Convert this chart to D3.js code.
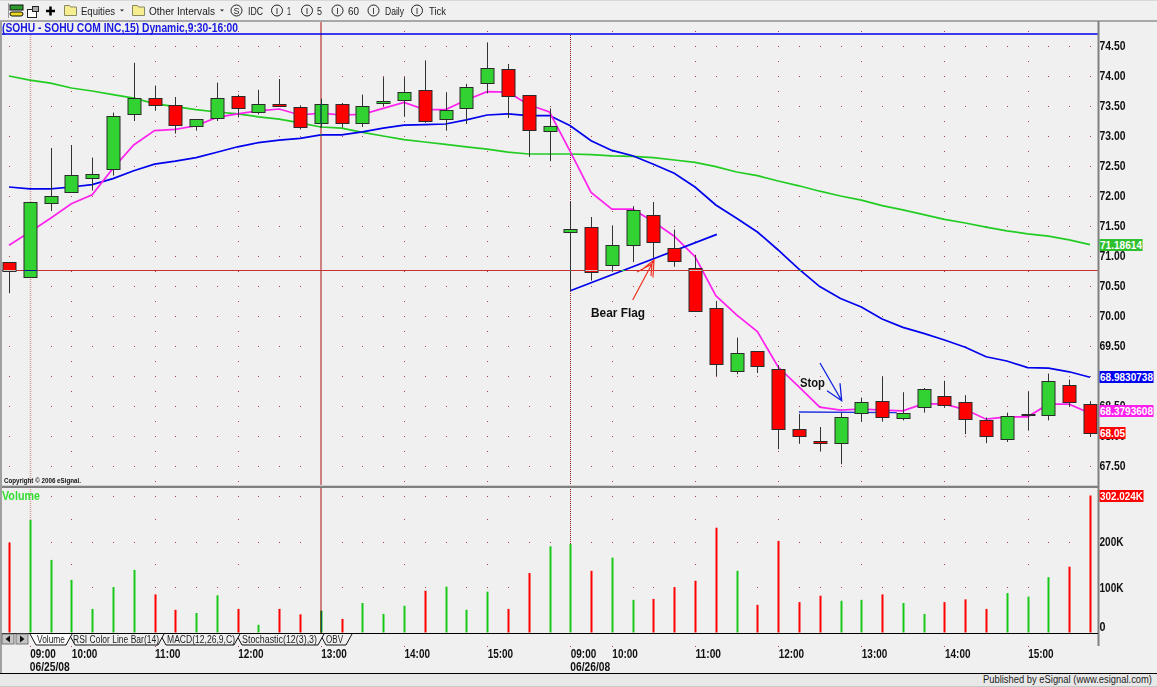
<!DOCTYPE html>
<html>
<head>
<meta charset="utf-8">
<script src="https://cdnjs.cloudflare.com/ajax/libs/d3/7.8.5/d3.min.js"></script>
<style>
  html, body { margin: 0; padding: 0; background: #f0f0f0; overflow: hidden; }
  text { font-family: "Liberation Sans", Arial, sans-serif; }
  .bold { font-weight: bold; }
</style>
</head>
<body>
<div id="graph"></div>
<script>
// bars are 15 min, index 0 is the last bar before the 09:00 label
var opens = [70.90,70.65,71.88,72.06,72.30,72.45,73.37,73.64,73.51,73.17,73.30,73.66,73.41,73.54,73.49,73.22,73.53,73.22,73.55,73.59,73.76,73.28,73.46,73.88,74.11,73.68,73.09,71.40,71.48,70.84,71.18,71.69,71.14,70.80,70.13,69.09,69.41,69.12,68.12,67.91,67.87,68.38,68.59,68.31,68.48,68.67,68.56,68.26,67.96,68.36,68.36,68.85,68.53];
var closes = [70.75,71.90,72.00,72.35,72.36,73.33,73.64,73.53,73.18,73.28,73.64,73.46,73.54,73.50,73.15,73.54,73.22,73.50,73.59,73.73,73.24,73.43,73.81,74.13,73.66,73.09,73.17,71.45,70.73,71.18,71.76,71.24,70.92,70.09,69.19,69.39,69.16,68.12,68.00,67.87,68.31,68.56,68.33,68.39,68.78,68.52,68.28,67.99,68.34,68.36,68.92,68.57,68.05];
var highs = [70.90,71.90,72.80,72.85,72.64,73.39,74.22,73.84,73.65,73.28,73.89,73.69,73.77,73.95,73.51,73.62,73.55,73.69,73.98,73.98,74.26,73.73,73.87,74.56,74.20,73.68,73.46,71.90,71.65,71.51,71.83,71.90,71.44,71.02,70.25,69.64,69.41,69.18,68.37,68.15,68.39,68.64,68.99,68.73,68.80,68.92,68.68,68.31,68.39,68.74,69.04,68.94,68.58];
var lows = [70.38,70.65,71.75,72.06,72.09,72.34,73.25,73.42,73.04,73.09,73.25,73.31,73.36,73.50,73.11,73.15,73.14,73.15,73.50,73.32,73.22,73.09,73.20,73.71,73.30,72.65,72.58,70.42,70.59,70.74,70.90,70.97,70.82,70.08,69.00,69.03,69.05,67.78,67.87,67.74,67.53,68.24,68.24,68.26,68.39,68.47,68.03,67.88,67.90,68.09,68.26,68.49,67.99];
var volumes = [198,248,160,116,52,100,138,84,50,43,82,52,17,52,40,48,30,65,41,59,92,101,50,90,52,131,190,195,136,165,72,74,100,114,231,136,61,202,67,81,70,72,84,65,41,67,73,52,87,79,122,145,302];

var magentaMa = [71.18,71.40,71.63,71.87,72.02,72.46,72.85,73.09,73.11,73.17,73.31,73.37,73.42,73.45,73.35,73.38,73.35,73.36,73.46,73.56,73.44,73.44,73.60,73.74,73.73,73.52,73.40,72.74,72.06,71.78,71.78,71.57,71.33,70.99,70.34,70.02,69.74,69.15,68.82,68.48,68.43,68.45,68.43,68.42,68.54,68.53,68.44,68.28,68.32,68.32,68.53,68.53,68.38];
var blueMa = [72.15,72.12,72.12,72.15,72.19,72.29,72.42,72.53,72.58,72.64,72.73,72.82,72.89,72.93,72.96,73.02,73.02,73.07,73.13,73.18,73.19,73.20,73.27,73.35,73.37,73.34,73.34,73.17,72.92,72.76,72.67,72.53,72.38,72.15,71.85,71.63,71.40,71.10,70.78,70.49,70.29,70.15,69.95,69.81,69.71,69.60,69.48,69.32,69.25,69.14,69.13,69.07,68.98];
var greenMa = [74.00,73.93,73.88,73.80,73.75,73.69,73.63,73.54,73.49,73.44,73.40,73.37,73.32,73.28,73.22,73.15,73.13,73.06,73.00,72.94,72.90,72.86,72.82,72.78,72.73,72.70,72.70,72.70,72.69,72.67,72.66,72.64,72.60,72.56,72.49,72.40,72.34,72.25,72.17,72.08,72.00,71.93,71.84,71.77,71.69,71.61,71.55,71.48,71.42,71.37,71.33,71.27,71.19];

var priceTicks = [74.5,74,73.5,73,72.5,72,71.5,71,70.5,70,69.5,69,68.5,68,67.5];
// 69.00 sits fully under the blue flag in the original
var priceLabels = priceTicks.filter(function(p) { return p != 69; });
var hourBars = [1,3,7,11,15,19,23,27,29,33,37,41,45,49];
var hourLabels = ['09:00','10:00','11:00','12:00','13:00','14:00','15:00','09:00','10:00','11:00','12:00','13:00','14:00','15:00'];
var dateBars = [1,27];
var dateLabels = ['06/25/08','06/26/08'];
var volumeTicks = [0,100,200];
var volumeGrid = [100,200,300];
var tabNames = ['Volume','RSI Color Line Bar(14)','MACD(12,26,9,C)','Stochastic(12(3),3)','OBV'];
var toolbarLabels = ['Equities','Other Intervals','IDC','1','5','60','Daily','Tick'];

var width = 1157,
    height = 687;

var red = '#ff0000',
    green = '#32d232',
    axisGrey = '#808080',
    dotColor = '#a84848';

var barIndex = d3.range(opens.length);

var x = d3.scaleLinear().domain([0, 52]).range([9, 1090]);
var y = d3.scaleLinear().domain([67.5, 74.5]).range([466, 46]);
var yVol = d3.scaleLinear().domain([0, 302]).range([632.5, 495.5]);

function px(v) { return Math.round(v) + 0.5; }

// the platform font is narrower than Liberation, squeeze to the measured width
function fit(sel, w) {
    return sel.attr('textLength', w).attr('lengthAdjust', 'spacingAndGlyphs');
}

var svg = d3.select('#graph')
    .append('svg')
    .attr('width', width)
    .attr('height', height)
    .style('display', 'block');

svg.append('rect').attr('width', width).attr('height', height).style('fill', '#f0f0f0');

// toolbar
svg.append('rect').attr('x', 0).attr('y', 20).attr('width', width).attr('height', 2).style('fill', '#a8a8a8');
svg.append('rect').attr('x', 0).attr('y', 0).attr('width', width).attr('height', 1).style('fill', '#d8d8d8');
svg.append('rect').attr('x', 8).attr('y', 3).attr('width', 1).attr('height', 15).style('fill', '#999');
svg.append('rect').attr('x', 10).attr('y', 5).attr('width', 13).attr('height', 5).style('fill', '#2c9a2c').style('stroke', '#111');
svg.append('rect').attr('x', 10).attr('y', 12).attr('width', 13).attr('height', 4).attr('rx', 2).style('fill', '#e8d820').style('stroke', '#111');
svg.append('rect').attr('x', 27.5).attr('y', 9.5).attr('width', 9).attr('height', 8).style('fill', '#fff').style('stroke', '#222');
svg.append('rect').attr('x', 32.5).attr('y', 6.5).attr('width', 6).attr('height', 5).style('fill', '#aaa').style('stroke', '#222');
svg.append('path').attr('d', 'M46 11H55M50.5 6.5V15.5').style('stroke', '#000').style('stroke-width', 2.5);

[64.5, 132.5].forEach(function(fx) {
    svg.append('path')
        .attr('d', 'M' + fx + ' 8V5.5H' + (fx + 5) + 'L' + (fx + 6) + ' 7H' + (fx + 12) + 'V15.5H' + fx + 'Z')
        .style('fill', '#f6ec90').style('stroke', '#8a8a60');
});
[120, 220].forEach(function(tx) {
    svg.append('path').attr('d', 'M' + tx + ' 9.5H' + (tx + 4) + 'L' + (tx + 2) + ' 11.5Z').style('fill', '#222');
});

var toolbarX = [81, 149, 248, 287, 317, 348, 385, 429];
var toolbarW = [34, 66, 15, 4, 5, 11, 19, 17];
svg.append('g').selectAll('text')
    .data(toolbarLabels)
    .enter().append('text')
    .attr('x', function(d, i) { return toolbarX[i]; })
    .attr('y', 15)
    .attr('textLength', function(d, i) { return toolbarW[i]; })
    .attr('lengthAdjust', 'spacingAndGlyphs')
    .style('font-size', 11.5)
    .style('fill', '#222')
    .text(function(d) { return d; });

[236.5, 277, 307, 337.5, 373.5, 417].forEach(function(cx, i) {
    svg.append('circle').attr('cx', cx).attr('cy', 10.5).attr('r', 5.5).style('fill', 'none').style('stroke', '#222');
    svg.append('text').attr('x', cx).attr('y', 13.5).attr('text-anchor', 'middle')
        .style('font-size', 9).style('fill', '#222').text(i == 0 ? 'S' : 'I');
});

// dotted grid, one row every 50 cents, hour columns every 15 px
var gridBars = barIndex.filter(function(i) { return i != 1 && i != 15 && i != 27; });
var gridGroup = svg.append('g').style('fill', dotColor);
priceTicks.forEach(function(p) {
    gridBars.forEach(function(i) {
        gridGroup.append('rect').attr('x', Math.round(x(i))).attr('y', Math.round(y(p))).attr('width', 1).attr('height', 1);
    });
});
var hourGrid = hourBars.filter(function(i) { return i != 1 && i != 15 && i != 27; });
priceTicks.concat([75, 67.25]).forEach(function(p) {
    hourGrid.forEach(function(i) {
        gridGroup.append('rect').attr('x', Math.round(x(i))).attr('y', Math.round(y(p - 0.25))).attr('width', 1).attr('height', 1);
    });
});
volumeGrid.forEach(function(v) {
    gridBars.forEach(function(i) {
        gridGroup.append('rect').attr('x', Math.round(x(i))).attr('y', Math.round(yVol(v))).attr('width', 1).attr('height', 1);
    });
});
[250, 150].forEach(function(v) {
    hourGrid.forEach(function(i) {
        gridGroup.append('rect').attr('x', Math.round(x(i))).attr('y', Math.round(yVol(v))).attr('width', 1).attr('height', 1);
    });
});
hourBars.forEach(function(i) {
    gridGroup.append('rect').attr('x', Math.round(x(i))).attr('y', 646).attr('width', 1).attr('height', 1);
});

// day separators
svg.append('line')
    .attr('x1', px(x(1))).attr('x2', px(x(1))).attr('y1', 35).attr('y2', yVol(volumes[1]))
    .style('stroke', '#d09898').style('stroke-width', 1.5).style('stroke-dasharray', '1 1');
svg.append('line')
    .attr('x1', px(x(27))).attr('x2', px(x(27))).attr('y1', 35).attr('y2', yVol(volumes[27]))
    .style('stroke', '#8b1a1a').style('stroke-dasharray', '1 1');

// moving averages
var maLine = d3.line()
    .x(function(d, i) { return x(i); })
    .y(function(d) { return y(d); });

[[greenMa, '#22cc22'], [blueMa, '#0000ee'], [magentaMa, '#ff22ee']].forEach(function(m) {
    svg.append('path')
        .datum(m[0])
        .attr('d', maLine)
        .style('fill', 'none')
        .style('stroke', m[1])
        .style('stroke-width', 1.7);
});

// hand drawn trend line and stop line
var flagLine = [[27, 70.42], [34.05, 71.36]];
var stopLine = [[38, 68.40], [42.7, 68.39]];
var anno = d3.line().x(function(d) { return x(d[0]); }).y(function(d) { return y(d[1]); });
svg.append('path').attr('d', anno(flagLine)).style('stroke', '#0000ee').style('stroke-width', 1.7).style('fill', 'none');
svg.append('path').attr('d', anno(stopLine)).style('stroke', '#2030e0').style('stroke-width', 1.3).style('fill', 'none');

// candles
var candles = svg.append('g').selectAll('g')
    .data(barIndex)
    .enter().append('g');

candles.append('line')
    .attr('x1', function(i) { return px(x(i)); })
    .attr('x2', function(i) { return px(x(i)); })
    .attr('y1', function(i) { return y(highs[i]); })
    .attr('y2', function(i) { return y(lows[i]); })
    .style('stroke', '#333');

candles.append('rect')
    .attr('x', function(i) { return px(x(i)) - 6.5; })
    .attr('y', function(i) { return px(y(Math.max(opens[i], closes[i]))); })
    .attr('width', 13)
    .attr('height', function(i) { return Math.max(1, Math.round(Math.abs(y(opens[i]) - y(closes[i])))); })
    .style('fill', function(i) { return closes[i] >= opens[i] ? green : red; })
    .style('stroke', '#2a2a2a');

// volume bars
svg.append('g').selectAll('rect')
    .data(barIndex)
    .enter().append('rect')
    .attr('x', function(i) { return Math.round(x(i)) - 0.5; })
    .attr('y', function(i) { return yVol(volumes[i]); })
    .attr('width', 2)
    .attr('height', function(i) { return yVol(0) - yVol(volumes[i]); })
    .style('fill', function(i) { return closes[i] >= opens[i] ? '#18c818' : red; });

// these two are xor'd by the platform, difference gets the same look over the bars
svg.append('line')
    .attr('x1', 2).attr('x2', 1098).attr('y1', px(y(70.77))).attr('y2', px(y(70.77)))
    .style('stroke', '#28c0c0').style('mix-blend-mode', 'difference');
svg.append('line')
    .attr('x1', 321).attr('x2', 321).attr('y1', 22).attr('y2', 633)
    .style('stroke', '#207070').style('stroke-width', 2).style('mix-blend-mode', 'difference');

// title and top line
svg.append('line').attr('x1', 2).attr('x2', 1098).attr('y1', 34).attr('y2', 34).style('stroke', '#0000ee').style('stroke-width', 1.4);
fit(svg.append('text').attr('class', 'bold')
    .attr('x', 2).attr('y', 32)
    .style('font-size', 12).style('fill', '#1818e0')
    .text('(SOHU - SOHU COM INC,15) Dynamic,9:30-16:00'), 236);

// arrows and notes
svg.append('path').attr('d', 'M632.7 300L654 260M641 270.5L654 260L653 277.5M637 272L652 264L651 276')
    .style('stroke', '#f03020').style('stroke-width', 1.2).style('fill', 'none');
svg.append('path').attr('d', 'M820 363L841.7 400.7M827 390.7L841.7 400.7L840 383.3')
    .style('stroke', '#1020e0').style('stroke-width', 1.3).style('fill', 'none');
fit(svg.append('text').attr('class', 'bold').attr('x', 591).attr('y', 317).style('font-size', 12).style('fill', '#111').text('Bear Flag'), 54);
fit(svg.append('text').attr('class', 'bold').attr('x', 800).attr('y', 387).style('font-size', 12).style('fill', '#111').text('Stop'), 25);
fit(svg.append('text').attr('class', 'bold').attr('x', 4).attr('y', 483).style('font-size', 7).style('fill', '#111').text('Copyright \u00a9 2006 eSignal.'), 77);
fit(svg.append('text').attr('class', 'bold').attr('x', 2).attr('y', 500).style('font-size', 12).style('fill', '#33dd33').text('Volume'), 38);

// panel frame
svg.append('rect').attr('x', 0).attr('y', 22).attr('width', 2).attr('height', 651).style('fill', '#a0a0a0');
svg.append('rect').attr('x', 2).attr('y', 485).attr('width', 1096).attr('height', 1).style('fill', '#d0d0d0');
svg.append('rect').attr('x', 2).attr('y', 486).attr('width', 1096).attr('height', 2).style('fill', axisGrey);
svg.append('rect').attr('x', 1097.5).attr('y', 21).attr('width', 2).attr('height', 625).style('fill', axisGrey);

// tab strip
svg.append('rect').attr('x', 2).attr('y', 633).attr('width', 1096).attr('height', 1).style('fill', '#000');
svg.append('rect').attr('x', 2).attr('y', 634).attr('width', 350).attr('height', 12).style('fill', '#f0f0f0');
[2, 16].forEach(function(bx, i) {
    svg.append('rect').attr('x', bx).attr('y', 634).attr('width', 12).attr('height', 10).style('fill', '#c4c4c4').style('stroke', '#777');
    var dir = i == 0 ? -1 : 1, mid = bx + 6;
    svg.append('path').attr('d', 'M' + (mid + dir * 2.5) + ' 639L' + (mid - dir * 2) + ' 635.5V642.5Z').style('fill', '#111');
});
var tabLeft = [30, 69, 160, 236, 320];
var tabRight = [72, 164, 240, 324, 352];
var tabTextX = [37, 73, 167, 242, 326];
var tabTextW = [28, 86, 68, 75, 17];
[4, 3, 2, 1, 0].forEach(function(i) {
    var l = tabLeft[i], r = tabRight[i];
    svg.append('path')
        .attr('d', 'M' + l + ' 634L' + (l + 6) + ' 645H' + (r - 6) + 'L' + r + ' 634')
        .style('fill', i == 0 ? '#ffffff' : '#f0f0f0')
        .style('stroke', '#111');
    fit(svg.append('text').attr('x', tabTextX[i]).attr('y', 643).style('font-size', 10).style('fill', '#222').text(tabNames[i]), tabTextW[i]);
});

// price axis
var yAxis = d3.axisRight(y)
    .tickValues(priceLabels)
    .tickSize(0)
    .tickPadding(0.5)
    .tickFormat(d3.format('.2f'));
var yG = svg.append('g')
    .attr('transform', 'translate(1099,0)')
    .call(yAxis);
yG.select('.domain').remove();
fit(yG.selectAll('text'), 26).attr('class', 'bold').style('font-size', 12).style('fill', '#111').style('font-family', '"Liberation Sans"');

// volume axis
var volAxis = d3.axisRight(yVol)
    .tickValues(volumeTicks)
    .tickSize(0)
    .tickPadding(0.5)
    .tickFormat(function(d) { return d == 0 ? '0' : d + 'K'; });
var vG = svg.append('g')
    .attr('transform', 'translate(1099,0)')
    .call(volAxis);
vG.select('.domain').remove();
vG.selectAll('text').attr('class', 'bold')
    .attr('dy', function(d) { return d == 0 ? '-2.2' : '3.9'; })
    .attr('textLength', function(d) { return d == 0 ? 6 : 24; })
    .attr('lengthAdjust', 'spacingAndGlyphs')
    .style('font-size', 12).style('fill', '#111').style('font-family', '"Liberation Sans"');

// time axis
var xAxis = d3.axisBottom(x)
    .tickValues(hourBars)
    .tickSize(0)
    .tickPadding(0)
    .tickFormat(function(d) { return hourLabels[hourBars.indexOf(d)]; });
var xG = svg.append('g')
    .attr('transform', 'translate(0,649)')
    .call(xAxis);
xG.select('.domain').remove();
fit(xG.selectAll('text'), 25.5).attr('class', 'bold').attr('text-anchor', 'start')
    .style('font-size', 12).style('fill', '#111').style('font-family', '"Liberation Sans"');

svg.append('g').selectAll('text')
    .data(dateLabels)
    .enter().append('text')
    .attr('class', 'bold')
    .attr('x', function(d, i) { return x(dateBars[i]); })
    .attr('y', 670.5)
    .attr('textLength', 40)
    .attr('lengthAdjust', 'spacingAndGlyphs')
    .style('font-size', 12)
    .style('fill', '#111')
    .text(function(d) { return d; });

// last value flags
var flags = [
    { scale: y, value: greenMa[52], text: '71.18614', fill: '#2fc02f', w: 43 },
    { scale: y, value: blueMa[52], text: '68.9830738', fill: '#0000f0', w: 54 },
    { scale: y, value: magentaMa[52], text: '68.3793608', fill: '#ff22ee', w: 54, off: -2 },
    { scale: y, value: closes[52], text: '68.05', fill: '#ff0000', w: 26 },
    { scale: yVol, value: volumes[52], text: '302.024K', fill: '#ff0000', w: 44 }
];
var flagG = svg.append('g').selectAll('g')
    .data(flags)
    .enter().append('g')
    .attr('transform', function(d) { return 'translate(1099.5,' + (Math.round(d.scale(d.value)) + (d.off || 0)) + ')'; });
flagG.append('rect').attr('x', 0).attr('y', -6).attr('width', function(d) { return d.w; }).attr('height', 12)
    .style('fill', function(d) { return d.fill; });
flagG.append('text').attr('class', 'bold').attr('x', 0.5).attr('y', 4)
    .attr('textLength', function(d) { return d.w - 1; })
    .attr('lengthAdjust', 'spacingAndGlyphs')
    .style('font-size', 10).style('fill', '#fff')
    .text(function(d) { return d.text; });

// status bar
svg.append('rect').attr('x', 0).attr('y', 673).attr('width', width).attr('height', 1).style('fill', '#000');
svg.append('rect').attr('x', 0).attr('y', 674).attr('width', width).attr('height', 13).style('fill', '#e8e8e8');
svg.append('rect').attr('x', 0).attr('y', 686).attr('width', width).attr('height', 1).style('fill', '#c8c8c8');
fit(svg.append('text').attr('x', 983).attr('y', 683)
    .style('font-size', 10).style('fill', '#222').text('Published by eSignal (www.esignal.com)'), 169);
</script>
</body>
</html>
